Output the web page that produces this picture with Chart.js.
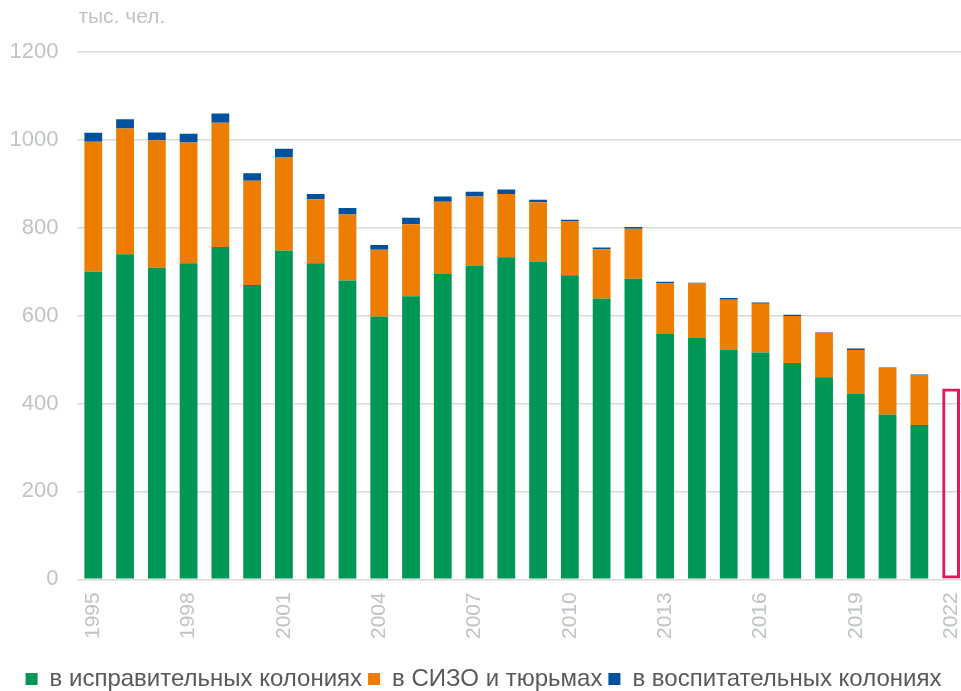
<!DOCTYPE html>
<html>
<head>
<meta charset="utf-8">
<script src="https://cdn.jsdelivr.net/npm/chart.js@4/dist/chart.umd.min.js"></script>
<style>
  html, body { margin: 0; padding: 0; background: #fff; overflow: hidden; }
  #wrap { position: relative; width: 967px; height: 701px; }
</style>
</head>
<body>
<div id="wrap"><canvas id="c"></canvas></div>
<script>
const years = ['1995','1996','1997','1998','1999','2000','2001','2002','2003','2004','2005','2006','2007','2008','2009','2010','2011','2012','2013','2014','2015','2016','2017','2018','2019','2020','2021','2022'];
const colonies = [700,740,709,719,756,670,748,719,680,598,644,695,714,733,723,692,639,684,558,549,523,516,492,460,423,375,351,null];
const sizoPrisons = [296,286,290,275,283,237,213,146,150,152,164,164,157,144,135,122,112,114,115,124,113,111,107,101,99,106,114,null];
const juvenileColonies = [20,21,18,20,21,17,19,12,15,11,15,12,11,10,6,4,4,4,4,2,4,3,3,1,3,1,1,null];
const estimate2022 = [null,null,null,null,null,null,null,null,null,null,null,null,null,null,null,null,null,null,null,null,null,null,null,null,null,null,null,434];
const yTicks = [0,200,400,600,800,1000,1200];
const unitLabel = 'тыс. чел.';
const seriesNames = ['в исправительных колониях','в СИЗО и тюрьмах','в воспитательных колониях'];

const FONT = "'Liberation Sans', Arial, sans-serif";
const GRAY = '#BFC4C8';

const unitPlugin = {
  id: 'unitLabel',
  afterDraw(chart) {
    const ctx = chart.ctx;
    ctx.save();
    ctx.font = '21px ' + FONT;
    ctx.fillStyle = GRAY;
    ctx.textAlign = 'left';
    ctx.textBaseline = 'alphabetic';
    ctx.fillText(unitLabel, chart.chartArea.left + 1, 23);
    ctx.restore();
  }
};

new Chart(document.getElementById('c'), {
  type: 'bar',
  data: {
    labels: years,
    datasets: [
      { label: seriesNames[0], data: colonies, backgroundColor: '#009656', borderWidth: 0 },
      { label: seriesNames[1], data: sizoPrisons, backgroundColor: '#EC7D00', borderWidth: 0 },
      { label: seriesNames[2], data: juvenileColonies, backgroundColor: '#0052A0', borderWidth: 0 },
      { label: '2022', data: estimate2022, backgroundColor: 'rgba(255,255,255,0)', borderColor: '#E3175C', borderWidth: 3, borderSkipped: false }
    ]
  },
  plugins: [unitPlugin],
  options: {
    responsive: true,
    maintainAspectRatio: false,
    animation: false,
    datasets: { bar: { barPercentage: 0.56, categoryPercentage: 1 } },
    layout: { padding: { top: 52, left: 0, right: 0, bottom: 0 } },
    plugins: {
      title: { display: false },
      tooltip: { enabled: false },
      legend: {
        position: 'bottom',
        labels: {
          filter: (item) => item.datasetIndex < 3,
          boxWidth: 12, boxHeight: 12,
          padding: 6,
          color: '#595959',
          font: { family: FONT, size: 24 }
        }
      }
    },
    scales: {
      x: {
        stacked: true,
        grid: { display: false, drawTicks: false },
        border: { display: false },
        ticks: {
          autoSkip: false,
          maxRotation: 90, minRotation: 90,
          padding: 13,
          color: GRAY,
          font: { family: FONT, size: 21 },
          callback: function(v, i) { return i % 3 === 0 ? years[i] : ''; }
        },
        afterFit: (scale) => { scale.height += 9; scale.paddingLeft = 0; scale.paddingRight = 0; }
      },
      y: {
        stacked: true,
        min: 0, max: 1200,
        afterBuildTicks: (scale) => { scale.ticks = yTicks.map(v => ({ value: v })); },
        afterFit: (scale) => { scale.width = 77.4; },
        grid: { color: '#D9D9D9', lineWidth: 1.5, drawTicks: false },
        border: { display: false },
        ticks: {
          padding: 19,
          color: GRAY,
          font: { family: FONT, size: 22 },
          callback: (v) => String(v)
        }
      }
    }
  }
});
</script>
</body>
</html>
